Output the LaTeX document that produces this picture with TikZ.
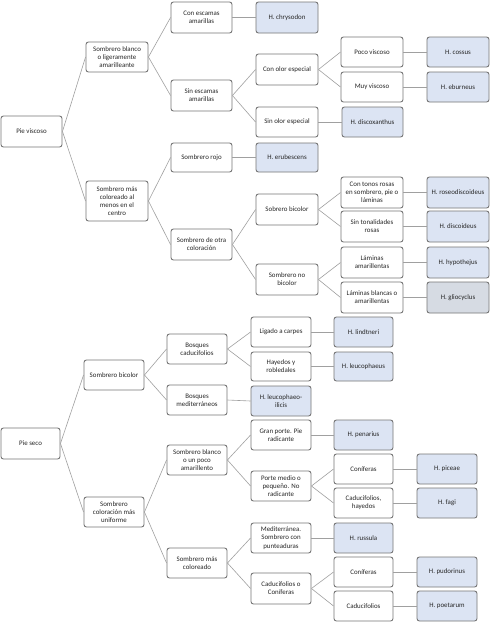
\documentclass[tikz,border=0pt]{standalone}
\usepackage{fontspec}
\setmainfont{Carlito}
\definecolor{bordc}{HTML}{767676}
\definecolor{edgec}{HTML}{A0A0A0}
\definecolor{leafc}{HTML}{DCE4F3}
\definecolor{leafg}{HTML}{D6DBE3}
\definecolor{txtc}{HTML}{262626}
\newcommand\mybox[7]{%
  \pgfmathsetmacro\myCX{(#3+#5)/2}%
  \pgfmathsetmacro\myCY{(#4+#6)/2}%
  \pgfmathsetmacro\myW{#5-#3}%
  \pgfmathsetmacro\myH{#6-#4}%
  \node[#1, minimum width=\myW pt, minimum height=\myH pt] (#2) at (\myCX,\myCY) {#7};}
\tikzset{
  basebox/.style={draw=bordc, line width=0.9pt, rounded corners=2.5pt, inner sep=1pt,
    align=center, text=txtc, font=\fontsize{6.9}{8.2}\selectfont},
  wbox/.style={basebox, fill=white},
  lbox/.style={basebox, fill=leafc},
  gbox/.style={basebox, fill=leafg},
  edge/.style={draw=edgec, line width=0.6pt}
}
\begin{document}
\begin{tikzpicture}[x=1pt,y=-1pt]
\useasboundingbox[fill=white] (0,0) rectangle (491,625);
% ---------- Pie viscoso ----------
\mybox{wbox}{pv}{1}{116}{62}{147}{Pie viscoso}
\mybox{wbox}{sbl}{86}{42}{148}{72}{Sombrero blanco\\o ligeramente\\amarilleante}
\mybox{wbox}{smc}{86}{181}{148}{221}{Sombrero más\\coloreado al\\menos en el\\centro}
\mybox{wbox}{cea}{171}{2}{232}{33}{Con escamas\\amarillas}
\mybox{wbox}{sea}{171}{80}{232}{111}{Sin escamas\\amarillas}
\mybox{wbox}{sro}{171}{143}{232}{172}{Sombrero rojo}
\mybox{wbox}{soc}{171}{229}{232}{260}{Sombrero de otra\\coloración}
\mybox{lbox}{chr}{256}{2}{318}{33}{H. chrysodon}
\mybox{wbox}{coe}{256}{54}{318}{85}{Con olor especial}
\mybox{wbox}{soe}{256}{107}{318}{137}{Sin olor especial}
\mybox{lbox}{eru}{256}{143}{318}{172}{H. erubescens}
\mybox{wbox}{sbi}{256}{194}{318}{225}{Sobrero bicolor}
\mybox{wbox}{snb}{256}{264}{318}{295}{Sombrero no\\bicolor}
\mybox{wbox}{pov}{341}{37}{403}{67}{Poco viscoso}
\mybox{wbox}{muv}{341}{72}{403}{102}{Muy viscoso}
\mybox{lbox}{dix}{342}{107}{403}{137}{H. discoxanthus}
\mybox{wbox}{ctr}{341}{177}{403}{208}{Con tonos rosas\\en sombrero, pie o\\láminas}
\mybox{wbox}{str}{341}{211}{403}{242}{Sin tonalidades\\rosas}
\mybox{wbox}{lam}{341}{247}{403}{278}{Láminas\\amarillentas}
\mybox{wbox}{lba}{341}{282}{403}{313}{Láminas blancas o\\amarillentas}
\mybox{lbox}{cos}{427}{37}{489}{67}{H. cossus}
\mybox{lbox}{ebu}{427}{72}{489}{102}{H. eburneus}
\mybox{lbox}{ros}{427}{177}{489}{208}{H. roseodiscoideus}
\mybox{lbox}{dis}{427}{211}{489}{242}{H. discoideus}
\mybox{lbox}{hyp}{427}{247}{489}{278}{H. hypothejus}
\mybox{gbox}{gli}{427}{282}{489}{313}{H. gliocyclus}
% ---------- Pie seco ----------
\mybox{wbox}{ps}{1}{428}{60}{459}{Pie seco}
\mybox{wbox}{sbc}{84}{360}{144}{390}{Sombrero bicolor}
\mybox{wbox}{scu}{84}{497}{144}{527}{Sombrero\\coloración más\\uniforme}
\mybox{wbox}{bca}{167}{334}{227}{364}{Bosques\\caducifolios}
\mybox{wbox}{bme}{167}{385}{227}{415}{Bosques\\mediterráneos}
\mybox{wbox}{sba}{167}{445}{227}{475}{Sombrero blanco\\o un poco\\amarillento}
\mybox{wbox}{smo}{167}{548}{227}{578}{Sombrero más\\coloreado}
\mybox{wbox}{lca}{251}{317}{311}{347}{Ligado a carpes}
\mybox{wbox}{hyr}{251}{352}{311}{381}{Hayedos y\\robledales}
\mybox{lbox}{lil}{251}{386}{311}{416}{H. leucophaeo-\\ilicis}
\mybox{wbox}{gpo}{251}{420}{311}{450}{Gran porte. Pie\\radicante}
\mybox{wbox}{pmp}{251}{471}{311}{501}{Porte medio o\\pequeño. No\\radicante}
\mybox{wbox}{med}{251}{523}{311}{553}{Mediterránea.\\Sombrero con\\punteaduras}
\mybox{wbox}{cco}{251}{573}{311}{604}{Caducifolios o\\Coníferas}
\mybox{lbox}{lin}{334}{317}{393}{347}{H. lindtneri}
\mybox{lbox}{leu}{334}{352}{393}{381}{H. leucophaeus}
\mybox{lbox}{pen}{334}{420}{393}{450}{H. penarius}
\mybox{wbox}{con1}{334}{454}{393}{484}{Coníferas}
\mybox{wbox}{cah}{334}{488}{393}{518}{Caducifolios,\\hayedos}
\mybox{lbox}{rus}{334}{523}{393}{553}{H. russula}
\mybox{wbox}{con2}{334}{557}{393}{587}{Coníferas}
\mybox{wbox}{cad}{334}{591}{393}{621}{Caducifolios}
\mybox{lbox}{pic}{417}{454}{477}{484}{H. piceae}
\mybox{lbox}{fag}{417}{488}{477}{518}{H. fagi}
\mybox{lbox}{pud}{417}{557}{477}{587}{H. pudorinus}
\mybox{lbox}{poe}{417}{591}{477}{621}{H. poetarum}
% ---------- connectors ----------
\foreach \a/\b in {pv/sbl,pv/smc,sbl/cea,sbl/sea,smc/sro,smc/soc,cea/chr,sea/coe,sea/soe,
  sro/eru,soc/sbi,soc/snb,coe/pov,coe/muv,soe/dix,pov/cos,muv/ebu,sbi/ctr,sbi/str,
  snb/lam,snb/lba,ctr/ros,str/dis,lam/hyp,lba/gli,
  ps/sbc,ps/scu,sbc/bca,sbc/bme,scu/sba,scu/smo,bca/lca,bca/hyr,bme/lil,sba/gpo,sba/pmp,
  smo/med,smo/cco,lca/lin,hyr/leu,gpo/pen,pmp/con1,pmp/cah,med/rus,cco/con2,cco/cad,
  con1/pic,cah/fag,con2/pud,cad/poe}
  \draw[edge] (\a.east) -- (\b.west);
\end{tikzpicture}
\end{document}
